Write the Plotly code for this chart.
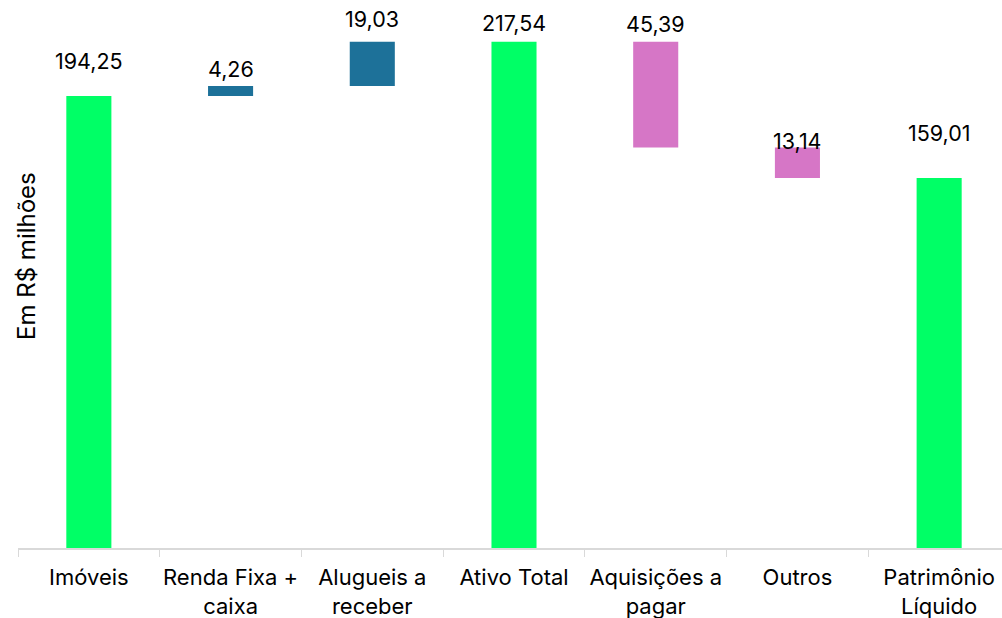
import plotly.graph_objects as go

categories = ["Imóveis", "Renda Fixa +<br>caixa", "Alugueis a<br>receber", "Ativo Total",
              "Aquisições a<br>pagar", "Outros", "Patrimônio<br>Líquido"]
measures = ["absolute", "relative", "relative", "total", "relative", "relative", "total"]
values = [194.25, 4.26, 19.03, 0, -45.39, -13.14, 0]
labels = ["194,25", "4,26", "19,03", "217,54", "45,39", "13,14", "159,01"]

# label offsets above bar tops (pixels) - styling only
label_shift = [35, 17, 23, 19, 18, 6, 45]

GREEN = "#00FF66"
BLUE = "#1D7199"
PINK = "#D676C6"
FONT = "Inter"

fig = go.Figure(go.Waterfall(
    x=categories, y=values, measure=measures,
    increasing=dict(marker=dict(color=BLUE)),
    decreasing=dict(marker=dict(color=PINK)),
    totals=dict(marker=dict(color=GREEN)),
    connector=dict(visible=False),
    showlegend=False, hoverinfo="skip",
))

# compute bar tops from data
running = 0.0
tops = []
for m, v in zip(measures, values):
    if m == "absolute":
        running = v
        tops.append(running)
    elif m == "total":
        tops.append(running)
    else:
        start = running
        running += v
        tops.append(max(start, running))

for c, t, txt, s in zip(categories, tops, labels, label_shift):
    fig.add_annotation(x=c, y=t, text=txt, showarrow=False, yanchor="middle",
                       yshift=s, font=dict(family=FONT, size=21.5, color="#000000"))

fig.add_annotation(xref="paper", yref="paper", x=0.008, y=(548 - 256) / 538,
                   text="Em R$ milhões", textangle=-90, showarrow=False,
                   xanchor="center", yanchor="middle",
                   font=dict(family=FONT, size=24, color="#000000"))

fig.update_layout(
    width=1010, height=618,
    margin=dict(l=18, r=0, t=10, b=70),
    paper_bgcolor="white", plot_bgcolor="white",
    waterfallgap=0.682,
    font=dict(family=FONT, size=21, color="#000000"),
    xaxis=dict(showline=True, linecolor="#D9D9D9", linewidth=1.5, automargin=False,
               ticks="outside", tickson="boundaries", ticklen=7, tickcolor="#D9D9D9",
               ticklabelstandoff=9, tickangle=0,
               tickfont=dict(family=FONT, size=22, color="#000000"), showgrid=False),
    yaxis=dict(range=[0, 538 / 2.327], showticklabels=False, showgrid=False,
               zeroline=False, showline=False, automargin=False),
)

fig.write_html("out.html", config={"displayModeBar": False},
               post_script="document.body.style.margin='0';document.body.style.overflow='hidden';")
